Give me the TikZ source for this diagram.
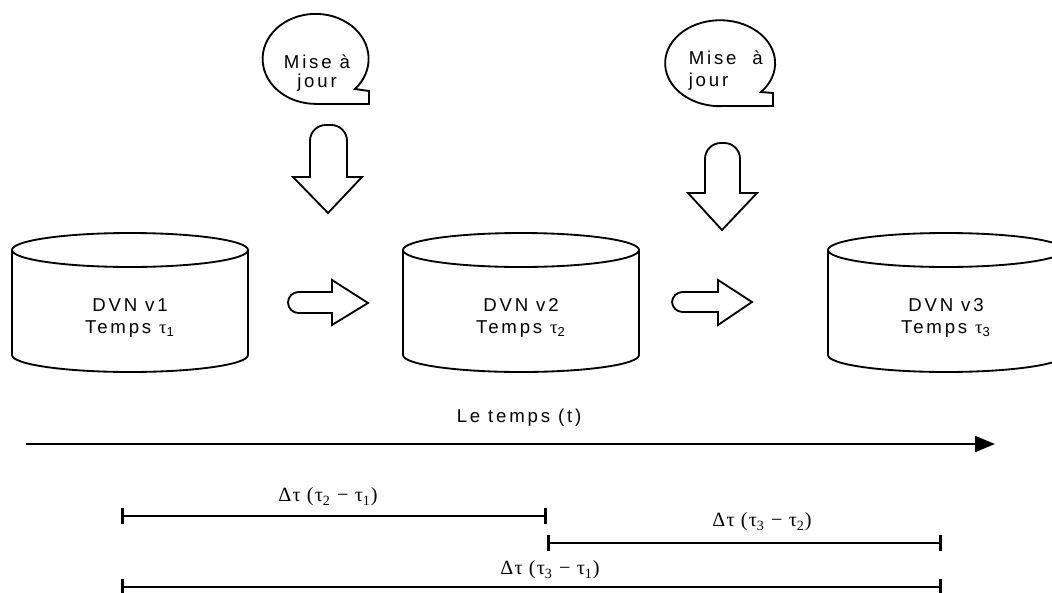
\documentclass[tikz,border=0pt]{standalone}
\usepackage{fontspec}
\setmainfont{Liberation Serif}[LetterSpace=6]
\setsansfont{Liberation Sans}[LetterSpace=15]
\usetikzlibrary{arrows.meta}
\tikzset{
  lbl/.style={font=\sffamily\fontsize{10.6}{13}\selectfont},
  dlbl/.style={font=\rmfamily\fontsize{11.5}{13}\selectfont},
  interval/.style={line width=1.1pt,
    {Bar[width=0.32cm,line width=1.6pt]}-{Bar[width=0.32cm,line width=1.6pt]}}
}
\begin{document}
\begin{tikzpicture}[x=0.02cm,y=-0.02cm,line width=1.05pt]
            \useasboundingbox (0,0) rectangle (1052,592);

            % Versions (cylinders)
            \foreach \cx/\n in {130/1,521/2,946/3}{
              \draw (\cx-118,250) -- (\cx-118,355)
                arc[start angle=180,end angle=0,x radius=118,y radius=17] -- (\cx+118,250);
              \draw (\cx,250) ellipse [x radius=118,y radius=17];
              \node[lbl,align=center] (dvn\n) at (\cx,318) {DVN v\n\\Temps {\rmfamily τ}\textsubscript{\n}};
            }

            % Update bubbles
            \draw (316,104) -- (369,104) -- (369,91) -- (355,89)
              arc[start angle=42,end angle=-270,x radius=53,y radius=45] -- cycle;
            \node[lbl,font=\sffamily\fontsize{10.6}{11}\selectfont,align=center] (maj1) at (317,73) {Mise à\\jour};
            \draw (720,106) -- (773,106) -- (773,93) -- (761,92)
              arc[start angle=42,end angle=-270,x radius=55,y radius=43] -- cycle;
            \node[lbl,font=\sffamily\fontsize{10.6}{12.5}\selectfont,align=left,anchor=west] (maj2) at (682,71) {Mise~ à\\jour};

            % Down arrows
            \draw (328,213) -- (293,177) -- (310,177) [rounded corners=9] -- (310,125)
              -- (347,125) [sharp corners] -- (347,177) -- (362,177) -- cycle;
            \draw (722,230) -- (688,193) -- (705,193) [rounded corners=9] -- (705,143)
              -- (740,143) [sharp corners] -- (740,193) -- (757,193) -- cycle;

            % Right arrows
            \draw (368,303) -- (332,280) -- (332,292) [rounded corners=6] -- (288,292)
              -- (288,313) [sharp corners] -- (332,313) -- (332,325) -- cycle;
            \draw (752,302) -- (718,280) -- (718,292) [rounded corners=6] -- (672,292)
              -- (672,312) [sharp corners] -- (718,312) -- (718,325) -- cycle;

            % Time axis
            \coordinate (t0) at (26,444);
            \coordinate (t1) at (995,444);
            \draw[line width=1.2pt,-{Triangle[length=0.4cm,width=0.32cm]}] (t0) -- (t1);
            \node[lbl] (axe) at (519,418) {Le temps (t)};

            % Intervals
            \coordinate (a1) at (121,516);
            \coordinate (a2) at (547,516);
            \coordinate (b2) at (547,543);
            \coordinate (b3) at (942,543);
            \coordinate (c1) at (121,587);
            \coordinate (c3) at (942,587);
            \draw[interval] (a1) -- (a2);
            \draw[interval] (b2) -- (b3);
            \draw[interval] (c1) -- (c3);
            \node[dlbl] (d21) at (328,497) {Δτ (τ\textsubscript{2} − τ\textsubscript{1})};
            \node[dlbl] (d32) at (762,522) {Δτ (τ\textsubscript{3} − τ\textsubscript{2})};
            \node[dlbl] (d31) at (550,570) {Δτ (τ\textsubscript{3} − τ\textsubscript{1})};
\end{tikzpicture}
\end{document}
